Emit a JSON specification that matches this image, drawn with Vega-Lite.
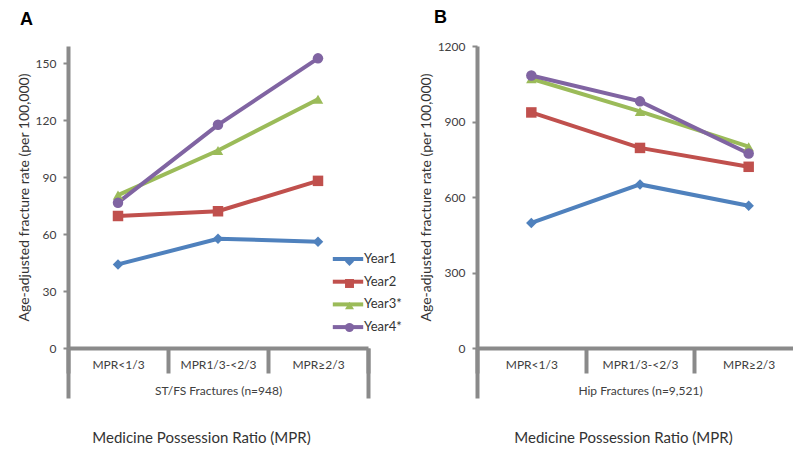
{
  "$schema": "https://vega.github.io/schema/vega-lite/v6.json",
  "padding": {"left": 17, "top": 9, "right": 0, "bottom": 0},
  "background": "white",
  "datasets": {
    "stfs": [
      {"mpr": "MPR<1/3", "year": "Year1", "rate": 44},
      {"mpr": "MPR1/3-<2/3", "year": "Year1", "rate": 57.5},
      {"mpr": "MPR≥2/3", "year": "Year1", "rate": 56},
      {"mpr": "MPR<1/3", "year": "Year2", "rate": 69.5},
      {"mpr": "MPR1/3-<2/3", "year": "Year2", "rate": 72},
      {"mpr": "MPR≥2/3", "year": "Year2", "rate": 88},
      {"mpr": "MPR<1/3", "year": "Year3*", "rate": 80.5},
      {"mpr": "MPR1/3-<2/3", "year": "Year3*", "rate": 104},
      {"mpr": "MPR≥2/3", "year": "Year3*", "rate": 131},
      {"mpr": "MPR<1/3", "year": "Year4*", "rate": 76.5},
      {"mpr": "MPR1/3-<2/3", "year": "Year4*", "rate": 117.5},
      {"mpr": "MPR≥2/3", "year": "Year4*", "rate": 152.5}
    ],
    "hip": [
      {"mpr": "MPR<1/3", "year": "Year1", "rate": 497},
      {"mpr": "MPR1/3-<2/3", "year": "Year1", "rate": 650},
      {"mpr": "MPR≥2/3", "year": "Year1", "rate": 565},
      {"mpr": "MPR<1/3", "year": "Year2", "rate": 936},
      {"mpr": "MPR1/3-<2/3", "year": "Year2", "rate": 795},
      {"mpr": "MPR≥2/3", "year": "Year2", "rate": 720},
      {"mpr": "MPR<1/3", "year": "Year3*", "rate": 1070},
      {"mpr": "MPR1/3-<2/3", "year": "Year3*", "rate": 940},
      {"mpr": "MPR≥2/3", "year": "Year3*", "rate": 800},
      {"mpr": "MPR<1/3", "year": "Year4*", "rate": 1083},
      {"mpr": "MPR1/3-<2/3", "year": "Year4*", "rate": 980},
      {"mpr": "MPR≥2/3", "year": "Year4*", "rate": 773}
    ]
  },
  "spacing": 109,
  "bounds": "flush",
  "hconcat": [
    {
      "width": 300,
      "height": 302,
      "data": {"name": "stfs"},
      "title": {"text": "A", "anchor": "start", "frame": "group", "dx": -48, "fontSize": 18, "font": "Liberation Sans", "fontWeight": "bold", "color": "#000000", "offset": 17},
      "layer": [
        {
          "mark": {"type": "line", "strokeWidth": 4},
          "encoding": {
            "x": {"field": "mpr", "type": "nominal", "sort": ["MPR<1/3", "MPR1/3-<2/3", "MPR≥2/3"], "scale": {"type": "band", "paddingInner": 0, "paddingOuter": 0},
              "axis": {"orient": "bottom", "tickBand": "extent", "tickSize": 25, "tickWidth": 4, "tickColor": "#8a8a8a", "domainColor": "#8a8a8a", "domainWidth": 4, "labelAngle": 0, "labelFontSize": 12, "labelColor": "#404040", "labelBaseline": "alphabetic", "labelPadding": -5, "title": "ST/FS Fractures (n=948)", "titleFontSize": 12, "titleFontWeight": "normal", "titleColor": "#404040", "titleY": 46, "titleBaseline": "alphabetic"}},
            "y": {"field": "rate", "type": "quantitative", "scale": {"domain": [0, 159], "nice": false},
              "axis": {"values": [0, 30, 60, 90, 120, 150], "format": "d", "title": "Age-adjusted fracture rate (per 100,000)", "titleFontSize": 14, "titleFontWeight": "normal", "titleColor": "#333333", "labelFontSize": 12, "labelColor": "#404040", "domainColor": "#8a8a8a", "domainWidth": 4, "tickColor": "#8a8a8a", "tickSize": 5, "tickWidth": 2, "labelPadding": 7, "titlePadding": 4}},
            "stroke": {"field": "year", "type": "nominal", "scale": {"domain": ["Year1", "Year2", "Year3*", "Year4*"], "range": ["#4F81BD", "#C0504D", "#9BBB59", "#8064A2"]},
              "legend": {"orient": "none", "legendX": 263, "legendY": 203, "title": null, "symbolType": "M-1.9,0H1.9", "symbolSize": 256, "symbolStrokeWidth": 4, "symbolOffset": 7, "labelFontSize": 13, "labelColor": "#333333", "labelOffset": 6, "rowPadding": 4.7}}
          }
        },
        {
          "mark": {"type": "point", "filled": true, "size": 110, "opacity": 1},
          "encoding": {
            "x": {"field": "mpr", "type": "nominal", "sort": ["MPR<1/3", "MPR1/3-<2/3", "MPR≥2/3"], "scale": {"type": "band", "paddingInner": 0, "paddingOuter": 0},
              "axis": {"orient": "bottom", "bandPosition": 0, "values": ["MPR<1/3"], "tickSize": 50, "tickWidth": 4, "tickColor": "#8a8a8a", "domain": false, "labels": false, "title": "Medicine Possession Ratio (MPR)", "titleFontSize": 15, "titleFontWeight": "normal", "titleColor": "#333333", "titleX": 133, "titleY": 94, "titleAlign": "center", "titleBaseline": "alphabetic"}},
            "y": {"field": "rate", "type": "quantitative"},
            "fill": {"field": "year", "type": "nominal", "scale": {"range": ["#4F81BD", "#C0504D", "#9BBB59", "#8064A2"]},
              "legend": {"orient": "none", "legendX": 263, "legendY": 209, "title": null, "symbolSize": 80, "symbolStrokeWidth": 0, "labelFontSize": 13, "labelOpacity": 0, "labelOffset": 0, "rowPadding": 8, "symbolOffset": 12}},
            "shape": {"field": "year", "type": "nominal", "scale": {"range": ["diamond", "square", "triangle-up", "circle"]},
              "legend": {"orient": "none", "legendX": 263, "legendY": 209, "title": null, "symbolSize": 80, "symbolStrokeWidth": 0, "labelFontSize": 13, "labelOpacity": 0, "labelOffset": 0, "rowPadding": 8, "symbolOffset": 12}}
          }
        },
        {
          "mark": {"type": "point", "opacity": 0},
          "encoding": {
            "x": {"field": "mpr", "type": "nominal", "sort": ["MPR<1/3", "MPR1/3-<2/3", "MPR≥2/3"], "scale": {"type": "band", "paddingInner": 0, "paddingOuter": 0},
              "axis": {"orient": "bottom", "bandPosition": 1, "values": ["MPR≥2/3"], "tickSize": 50, "tickWidth": 4, "tickColor": "#8a8a8a", "domain": false, "labels": false, "title": null}},
            "y": {"field": "rate", "type": "quantitative"}
          }
        }
      ],
      "resolve": {"axis": {"x": "independent"}}
    },
    {
      "width": 326,
      "height": 302,
      "data": {"name": "hip"},
      "title": {"text": "B", "anchor": "start", "frame": "group", "dx": -43, "fontSize": 18, "font": "Liberation Sans", "fontWeight": "bold", "color": "#000000", "offset": 13},
      "layer": [
        {
          "mark": {"type": "line", "strokeWidth": 4},
          "encoding": {
            "x": {"field": "mpr", "type": "nominal", "sort": ["MPR<1/3", "MPR1/3-<2/3", "MPR≥2/3"], "scale": {"type": "band", "paddingInner": 0, "paddingOuter": 0},
              "axis": {"orient": "bottom", "tickBand": "extent", "tickSize": 25, "tickWidth": 4, "tickColor": "#8a8a8a", "domainColor": "#8a8a8a", "domainWidth": 4, "labelAngle": 0, "labelFontSize": 12, "labelColor": "#404040", "labelBaseline": "alphabetic", "labelPadding": -5, "title": "Hip Fractures (n=9,521)", "titleFontSize": 12, "titleFontWeight": "normal", "titleColor": "#404040", "titleY": 46, "titleBaseline": "alphabetic"}},
            "y": {"field": "rate", "type": "quantitative", "scale": {"domain": [0, 1200], "nice": false},
              "axis": {"values": [0, 300, 600, 900, 1200], "format": "d", "title": "Age-adjusted fracture rate (per 100,000)", "titleFontSize": 14, "titleFontWeight": "normal", "titleColor": "#333333", "labelFontSize": 12, "labelColor": "#404040", "domainColor": "#8a8a8a", "domainWidth": 4, "tickColor": "#8a8a8a", "tickSize": 5, "tickWidth": 2, "labelPadding": 7, "titlePadding": 4}},
            "stroke": {"field": "year", "type": "nominal", "scale": {"domain": ["Year1", "Year2", "Year3*", "Year4*"], "range": ["#4F81BD", "#C0504D", "#9BBB59", "#8064A2"]}, "legend": null}
          }
        },
        {
          "mark": {"type": "point", "filled": true, "size": 110, "opacity": 1},
          "encoding": {
            "x": {"field": "mpr", "type": "nominal", "sort": ["MPR<1/3", "MPR1/3-<2/3", "MPR≥2/3"], "scale": {"type": "band", "paddingInner": 0, "paddingOuter": 0},
              "axis": {"orient": "bottom", "bandPosition": 0, "values": ["MPR<1/3"], "tickSize": 50, "tickWidth": 4, "tickColor": "#8a8a8a", "domain": false, "labels": false, "title": "Medicine Possession Ratio (MPR)", "titleFontSize": 15, "titleFontWeight": "normal", "titleColor": "#333333", "titleX": 146, "titleY": 94, "titleAlign": "center", "titleBaseline": "alphabetic"}},
            "y": {"field": "rate", "type": "quantitative"},
            "fill": {"field": "year", "type": "nominal", "scale": {"range": ["#4F81BD", "#C0504D", "#9BBB59", "#8064A2"]}, "legend": null},
            "shape": {"field": "year", "type": "nominal", "scale": {"range": ["diamond", "square", "triangle-up", "circle"]}, "legend": null}
          }
        }
      ],
      "resolve": {"axis": {"x": "independent"}}
    }
  ],
  "config": {
    "view": {"stroke": null},
    "font": "Lato",
    "axis": {"grid": false, "labelFont": "Lato", "titleFont": "Lato"},
    "legend": {"labelFont": "Lato"}
  }
}
